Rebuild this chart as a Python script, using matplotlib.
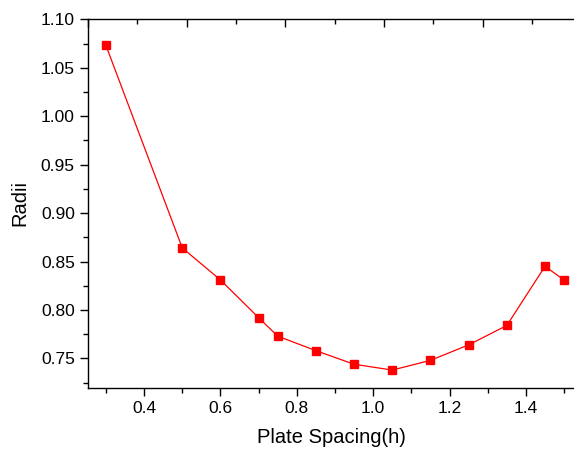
import numpy as np
import matplotlib
matplotlib.use("Agg")
import matplotlib.pyplot as plt
from matplotlib.ticker import MultipleLocator, NullFormatter

# Values
plate_spacing = [0.30, 0.50, 0.60, 0.70, 0.75, 0.85, 0.95, 1.05, 1.15, 1.25, 1.35, 1.45, 1.50]
radii = [1.073, 0.864, 0.831, 0.792, 0.773, 0.758, 0.744, 0.738, 0.748, 0.764, 0.784, 0.845, 0.831]

plt.rcParams['font.family'] = ['Liberation Sans', 'DejaVu Sans']

fig = plt.figure(figsize=(5.74, 4.55), dpi=100)
ax = fig.add_axes([88 / 574, 1 - 387.5 / 455, 1 - 88 / 574, (387.5 - 19.3) / 455])

ax.plot(plate_spacing, radii, color='red', lw=0.9, marker='s', ms=6,
        markerfacecolor='red', markeredgecolor='red')

ax.set_xlim(0.253, 1.526)
ax.set_ylim(0.72, 1.10)
ax.xaxis.set_major_locator(MultipleLocator(0.2))
ax.xaxis.set_minor_locator(MultipleLocator(0.1))
ax.yaxis.set_major_locator(MultipleLocator(0.05))
ax.yaxis.set_minor_locator(MultipleLocator(0.025))
ax.yaxis.set_major_formatter(matplotlib.ticker.FormatStrFormatter('%.2f'))
ax.xaxis.set_major_formatter(matplotlib.ticker.FormatStrFormatter('%.1f'))

ax.tick_params(which='major', direction='out', length=6, width=1.0, labelsize=12.5)
ax.tick_params(which='minor', direction='out', length=3.5, width=1.0)
ax.spines['right'].set_visible(False)
ax.spines['top'].set_visible(False)
for s in ['left', 'bottom']:
    ax.spines[s].set_linewidth(1.0)

ax.set_xlabel('Plate Spacing(h)', fontsize=14.5, labelpad=9)
ax.set_ylabel('Radii', fontsize=14.5, labelpad=8)

# top axis with inward ticks, no labels
top = ax.twiny()
top.set_xlim(0, (574 - 88) / 98.7)
top.xaxis.set_major_locator(MultipleLocator(1))
top.xaxis.set_minor_locator(MultipleLocator(0.5))
top.xaxis.set_major_formatter(NullFormatter())
top.tick_params(which='major', direction='in', length=6, width=1.0)
top.tick_params(which='minor', direction='in', length=3.5, width=1.0)
top.spines['top'].set_linewidth(1.0)
top.spines['right'].set_visible(False)
top.spines['left'].set_visible(False)
top.spines['bottom'].set_visible(False)

fig.savefig('out.png', dpi=100)
